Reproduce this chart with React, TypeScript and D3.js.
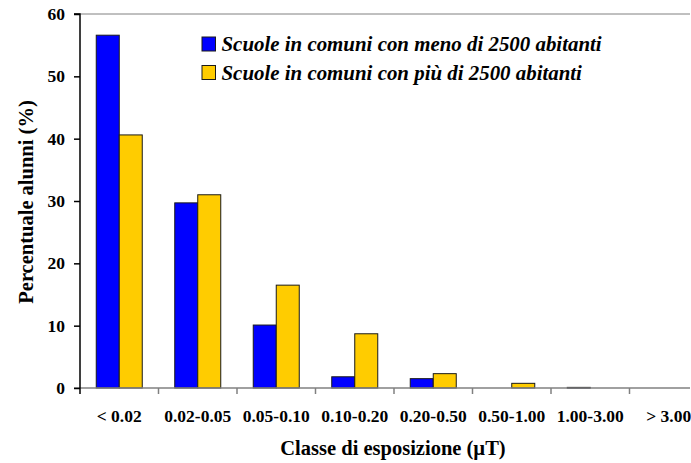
import React, { useEffect, useRef } from 'react';
import * as d3 from 'd3';

const width = 691;
const height = 463;
const margin = { top: 14, right: 1, bottom: 75, left: 80 };
const plotRight = 690;
const catStep = 78.5;

const categories = ['< 0.02', '0.02-0.05', '0.05-0.10', '0.10-0.20', '0.20-0.50', '0.50-1.00', '1.00-3.00', '> 3.00'];
const menoValues = [56.6, 29.7, 10.1, 1.8, 1.5, 0, 0.1, 0];
const piuValues = [40.6, 31.0, 16.5, 8.7, 2.3, 0.75, 0, 0];
const seriesNames = ['Scuole in comuni con meno di 2500 abitanti', 'Scuole in comuni con più di 2500 abitanti'];
const seriesColors = ['#0000ff', '#ffcc00'];
const yTicks = [0, 10, 20, 30, 40, 50, 60];

const font = '"Liberation Serif", "Times New Roman", serif';

export default function App() {
  const ref = useRef<SVGSVGElement>(null);

  useEffect(() => {
    const svg = d3.select(ref.current);
    svg.selectAll('*').remove();

    const y = d3.scaleLinear().domain([0, 60]).range([height - margin.bottom, margin.top]);
    // plot is clipped on the right in the original, so the band runs past the edge
    const x = d3
      .scaleBand()
      .domain(categories)
      .range([margin.left, margin.left + catStep * categories.length]);
    const inner = d3.scaleBand().domain(['0', '1']).range([0, 46]);
    const groupOff = (x.bandwidth() - 46) / 2;

    // top gridline
    svg
      .append('line')
      .attr('x1', margin.left - 6)
      .attr('x2', plotRight)
      .attr('y1', y(60))
      .attr('y2', y(60))
      .attr('stroke', '#808080')
      .attr('stroke-width', 1);

    // bars
    const data = [menoValues, piuValues];
    data.forEach((vals, s) => {
      const rows = vals.map((v, i) => ({ cat: categories[i], v })).filter(d => d.v > 0);
      svg
        .append('g')
        .selectAll('rect')
        .data(rows)
        .join('rect')
        .attr('x', d => x(d.cat)! + groupOff + inner(String(s))!)
        .attr('y', d => y(d.v))
        .attr('width', inner.bandwidth())
        .attr('height', d => Math.max(y(0) - y(d.v), 0.8))
        .attr('fill', seriesColors[s])
        .attr('stroke', '#1a1a1a')
        .attr('stroke-width', 1);
    });

    // x axis
    const xa = svg.append('g').attr('transform', `translate(0, ${y(0)})`);
    xa.append('line')
      .attr('x1', margin.left - 6)
      .attr('x2', plotRight)
      .attr('stroke', '#808080')
      .attr('stroke-width', 1.5);
    xa.selectAll('line.tick')
      .data(d3.range(1, categories.length))
      .join('line')
      .attr('class', 'tick')
      .attr('x1', i => margin.left + catStep * i)
      .attr('x2', i => margin.left + catStep * i)
      .attr('y1', 0)
      .attr('y2', 6)
      .attr('stroke', '#808080')
      .attr('stroke-width', 1.5);
    xa.selectAll('text')
      .data(categories)
      .join('text')
      .attr('x', d => x(d)! + x.bandwidth() / 2)
      .attr('y', 34)
      .attr('text-anchor', 'middle')
      .attr('font-family', font)
      .attr('font-weight', 'bold')
      .attr('font-size', 17.5)
      .text(d => d);

    // y axis
    const yAxis = d3.axisLeft(y).tickValues(yTicks).tickSize(6).tickPadding(9);
    const ya = svg.append('g').attr('transform', `translate(${margin.left}, 0)`).call(yAxis);
    ya.select('.domain').attr('stroke', '#000').attr('stroke-width', 1.5).attr('d', `M-6,${y(60)}H0V${y(0) + 6}`);
    ya.selectAll('.tick line').attr('stroke', '#000').attr('stroke-width', 1.5);
    ya.selectAll('.tick text')
      .attr('font-family', font)
      .attr('font-weight', 'bold')
      .attr('font-size', 17.5)
      .attr('fill', '#000');

    // axis titles
    svg
      .append('text')
      .attr('x', 393)
      .attr('y', 455)
      .attr('text-anchor', 'middle')
      .attr('font-family', font)
      .attr('font-weight', 'bold')
      .attr('font-size', 20.5)
      .text('Classe di esposizione (µT)');
    svg
      .append('text')
      .attr('transform', `translate(33, 202) rotate(-90)`)
      .attr('text-anchor', 'middle')
      .attr('font-family', font)
      .attr('font-weight', 'bold')
      .attr('font-size', 20.5)
      .text('Percentuale alunni (%)');

    // legend
    const lg = svg.append('g').attr('transform', 'translate(202, 37)');
    seriesNames.forEach((name, i) => {
      const row = lg.append('g').attr('transform', `translate(0, ${i * 28.5})`);
      row
        .append('rect')
        .attr('width', 13.5)
        .attr('height', 14)
        .attr('fill', seriesColors[i])
        .attr('stroke', '#1a1a1a')
        .attr('stroke-width', 1);
      row
        .append('text')
        .attr('x', 19.5)
        .attr('y', 14)
        .attr('font-family', font)
        .attr('font-weight', 'bold')
        .attr('font-style', 'italic')
        .attr('font-size', 20.9)
        .text(name);
    });
  }, []);

  return (
    <svg
      ref={ref}
      width={width}
      height={height}
      style={{ position: 'absolute', left: 0, top: 0, background: '#fff' }}
    />
  );
}
